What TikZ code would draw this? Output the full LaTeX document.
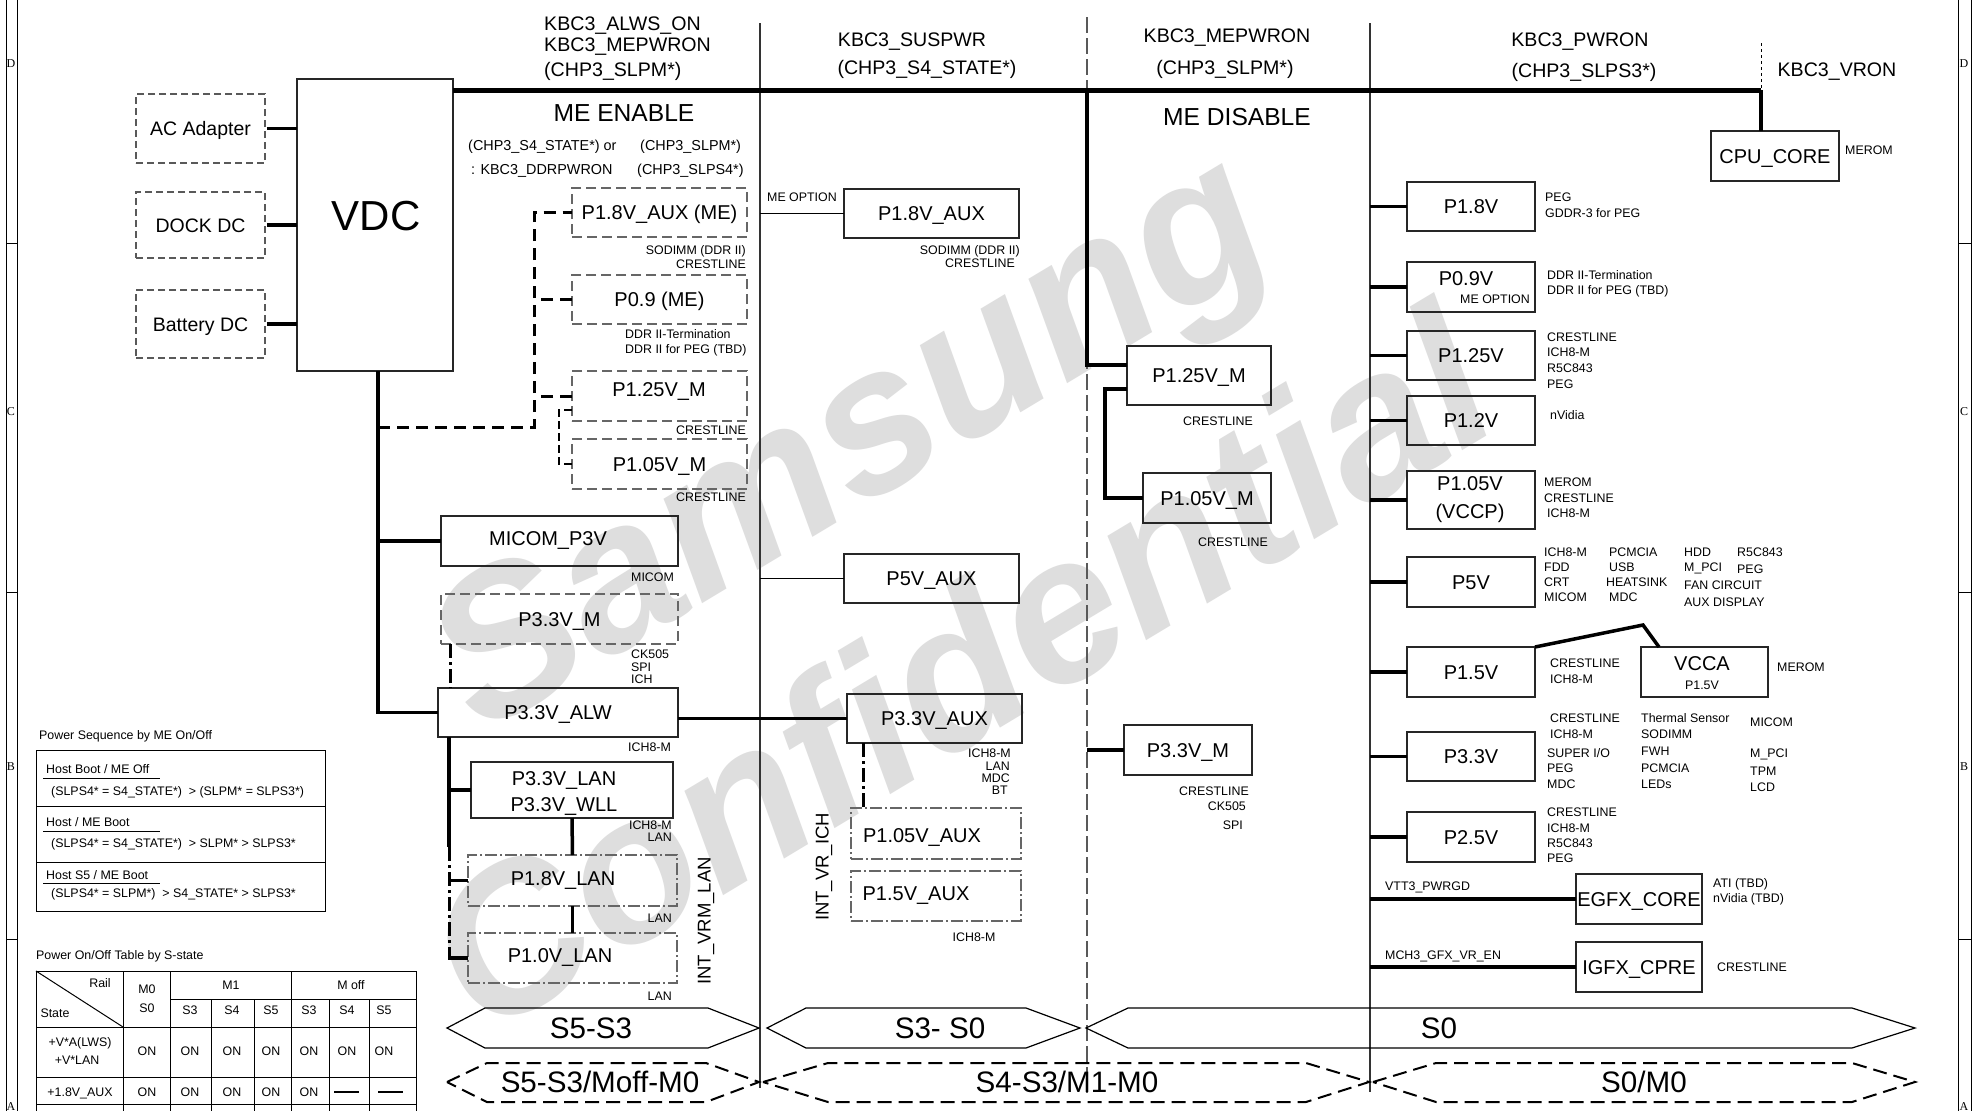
\documentclass[tikz,border=0pt]{standalone}
\usepackage{fontspec}
\setmainfont{Liberation Sans}
\newfontfamily\serf{Liberation Serif}
\begin{document}
\begin{tikzpicture}[x=1pt,y=-1pt,
 lbl/.style={inner sep=0pt, font=\fontsize{12.4}{14}\selectfont, text height=8.9pt, text depth=0pt},
 hd/.style={inner sep=0pt, font=\fontsize{19.6}{22}\selectfont, text height=14.1pt, text depth=0pt},
 hdm/.style={inner sep=0pt, font=\fontsize{14.4}{16}\selectfont, text height=10.3pt, text depth=0pt},
 ttl/.style={inner sep=0pt, font=\fontsize{24.6}{28}\selectfont, text height=17.7pt, text depth=0pt},
 bt/.style={inner sep=0pt, font=\fontsize{20}{24}\selectfont, text height=14.4pt, text depth=0pt},
 rt/.style={inner sep=0pt, font=\fontsize{18.5}{22}\selectfont, text height=13.3pt, text depth=0pt, rotate=90},
 st/.style={inner sep=0pt, font=\fontsize{29.6}{34}\selectfont, text height=21.3pt, text depth=0pt},
 fr/.style={inner sep=0pt, font=\serf\fontsize{12}{14}\selectfont, text height=8pt, text depth=0pt},
 wm/.style={inner sep=0pt, text=black!13, rotate=31, font=\fontsize{207}{210}\selectfont\bfseries\itshape},
 box/.style={draw=black!85, line width=1.3pt, inner sep=0pt, outer sep=0pt, font=\fontsize{20}{24}\selectfont, text height=14.4pt, text depth=0pt},
 dbox/.style={box, draw=black!60, line width=1.4pt, dash pattern=on 10pt off 5pt},
 sbox/.style={box, draw=black!65, line width=1.2pt, dash pattern=on 7pt off 4pt, font=\fontsize{19.5}{24}\selectfont},
 ddbox/.style={box, draw=black!60, line width=1.2pt, dash pattern=on 12pt off 3pt on 2pt off 3pt},
 thk/.style={line width=3.5pt},
 thkd/.style={line width=3pt, dash pattern=on 12pt off 7pt},
 thkdd/.style={line width=3pt, dash pattern=on 14pt off 4pt on 3pt off 4pt},
 thn/.style={line width=1.5pt},
 dv/.style={line width=1.2pt, draw=black!80},
 dvd/.style={line width=1.2pt, draw=black!65, dash pattern=on 16pt off 5pt},
 hex/.style={line width=1.2pt, line join=miter},
 dhex/.style={line width=2pt, dash pattern=on 14pt off 7pt},
 tl/.style={line width=1pt}
]
\fill[white] (0,0) rectangle (1973,1111);
\useasboundingbox (0,0) rectangle (1973,1111);

% watermark
\node[wm] (wm1) at (856,452) {Samsung};
\node[wm] (wm2) at (958,668) {Confidential};

% frame
\draw[line width=1pt] (6,0) -- (6,1111) (17,0) -- (17,1111);
\draw[line width=1pt] (6,243) -- (17,243) (6,592) -- (17,592) (6,939) -- (17,939);
\draw[line width=1pt] (1958,0) -- (1958,1111) (1971,0) -- (1971,1111);
\draw[line width=1pt] (1958,243) -- (1971,243) (1958,592) -- (1971,592) (1958,939) -- (1971,939);
\node[fr] (fLD) at (11,63) {D};
\node[fr] (fLC) at (11,411) {C};
\node[fr] (fLB) at (11,766) {B};
\node[fr] (fLA) at (11,1106) {A};
\node[fr] (fRD) at (1964,63) {D};
\node[fr] (fRC) at (1964,411) {C};
\node[fr] (fRB) at (1964,766) {B};
\node[fr] (fRA) at (1964,1106) {A};

% dividers
\coordinate (d1) at (760,23);
\coordinate (d1b) at (760,1088);
\coordinate (d2) at (1087,17);
\coordinate (d2b) at (1087,1093);
\coordinate (c4) at (1370,23);
\coordinate (c4b) at (1370,1092);
\draw[dv] (d1) -- (d1b);
\draw[dvd] (d2) -- (d2b);
\draw[dv] (c4) -- (c4b);

% headers
\node[hd, anchor=west] (h1a) at (544,23) {KBC3\_ALWS\_ON};
\node[hd, anchor=west] (h1b) at (544,44) {KBC3\_MEPWRON};
\node[hd, anchor=west] (h1c) at (544,69) {(CHP3\_SLPM*)};
\node[ttl] (meen) at (624,113) {ME ENABLE};
\node[hdm, anchor=west] (m1) at (468,145) {(CHP3\_S4\_STATE*) or};
\node[hdm, anchor=west] (m2) at (640,145) {(CHP3\_SLPM*)};
\node[hdm, anchor=west] (m3) at (471,169) {: KBC3\_DDRPWRON};
\node[hdm, anchor=west] (m4) at (637,169) {(CHP3\_SLPS4*)};
\node[hd] (h2a) at (912,39) {KBC3\_SUSPWR};
\node[hd] (h2b) at (927,67) {(CHP3\_S4\_STATE*)};
\node[hd] (h3a) at (1227,35) {KBC3\_MEPWRON};
\node[hd] (h3b) at (1225,67) {(CHP3\_SLPM*)};
\node[ttl] (medis) at (1237,117) {ME DISABLE};
\node[hd] (h4a) at (1580,39) {KBC3\_PWRON};
\node[hd] (h4b) at (1584,70) {(CHP3\_SLPS3*)};
\node[hd] (h5) at (1837,69) {KBC3\_VRON};

% sources and VDC
\node[sbox, minimum width=129pt, minimum height=69pt] (ac) at (200.5,128.5) {AC Adapter};
\node[sbox, minimum width=129pt, minimum height=66pt] (dock) at (200.5,225) {DOCK DC};
\node[sbox, minimum width=129pt, minimum height=68pt] (batt) at (200.5,324) {Battery DC};
\node[box, minimum width=156pt, minimum height=292pt] (vdc) at (375,225) {};
\node[inner sep=0pt, font=\fontsize{42}{46}\selectfont, text height=30.2pt, text depth=0pt] (vdct) at (376,215) {VDC};
\draw[thk] ([xshift=2pt]ac.east) -- (ac.east -| vdc.west);
\draw[thk] ([xshift=2pt]dock.east) -- (dock.east -| vdc.west);
\draw[thk] ([xshift=2pt]batt.east) -- (batt.east -| vdc.west);

% top bar
\coordinate (tb0) at (453,90);
\coordinate (vr) at (1761,90);
\coordinate (vrt) at (1761,43);
\draw[line width=5pt] (tb0) -- (vr);
\draw[dashed, line width=1pt] (vrt) -- (vr);

% column 1 ME group
\node[dbox, minimum width=175pt, minimum height=49pt] (me18) at (659.5,212.5) {P1.8V\_AUX (ME)};
\node[dbox, minimum width=175pt, minimum height=49pt] (me09) at (659.5,299.5) {P0.9 (ME)};
\node[dbox, minimum width=175pt, minimum height=50pt] (me125) at (659.5,396) {};
\node[bt] (me125t) at (659,389) {P1.25V\_M};
\node[dbox, minimum width=175pt, minimum height=50pt] (me105) at (659.5,464) {P1.05V\_M};
\node[lbl, anchor=east] (l1) at (746,250) {SODIMM (DDR II)};
\node[lbl, anchor=east] (l2) at (746,264) {CRESTLINE};
\node[lbl, anchor=west] (l3) at (625,334) {DDR II-Termination};
\node[lbl, anchor=west] (l4) at (625,349) {DDR II for PEG (TBD)};
\node[lbl, anchor=east] (l5) at (746,430) {CRESTLINE};
\node[lbl, anchor=east] (l6) at (746,497) {CRESTLINE};

\coordinate (tr) at (378,371);
\coordinate (mej) at (534,427);
\coordinate (mes) at (559,410);
\draw[thkd] (mej -| tr) -- (mej) |- (me18.west);
\draw[thkd] (me09.west) -- (me09.west -| mej);
\draw[thkd] (me125.west) -- (me125.west -| mej);
\draw[line width=1.2pt, dash pattern=on 8pt off 4pt] (mes -| me125.west) -- (mes) |- (me105.west);

% trunk
\node[box, minimum width=237pt, minimum height=50pt] (micom) at (559.5,541) {};
\node[bt] (micomt) at (548,538) {MICOM\_P3V};
\node[dbox, minimum width=237pt, minimum height=50pt] (pm33) at (559.5,619) {P3.3V\_M};
\node[box, minimum width=240pt, minimum height=49pt] (alw) at (558,712.5) {P3.3V\_ALW};
\draw[thk] (tr) |- (alw.west);
\draw[thk] (micom.west) -- (micom.west -| tr);
\node[lbl, anchor=west] (l7) at (631,577) {MICOM};
\node[lbl, anchor=west] (l8) at (631,654) {CK505};
\node[lbl, anchor=west] (l9) at (631,667) {SPI};
\node[lbl, anchor=west] (l10) at (631,679) {ICH};
\node[lbl, anchor=west] (l11) at (628,747) {ICH8-M};
\coordinate (t3) at (450,644);
\draw[thkdd] (t3) -- (t3 |- alw.north);

% LAN group
\node[box, minimum width=202pt, minimum height=56pt] (lan33) at (572,790) {};
\node[bt] (lan33a) at (564,778) {P3.3V\_LAN};
\node[bt] (lan33b) at (564,804) {P3.3V\_WLL};
\node[ddbox, minimum width=209pt, minimum height=51pt] (lan18) at (572.5,880.5) {};
\node[bt] (lan18t) at (563,878) {P1.8V\_LAN};
\node[ddbox, minimum width=209pt, minimum height=50pt] (lan10) at (572.5,958) {};
\node[bt] (lan10t) at (560,955) {P1.0V\_LAN};
\coordinate (t2) at (449,737);
\coordinate (t2a) at (449,847);
\draw[thk] (t2) -- (t2a);
\draw[thkdd] (t2a) -- (t2a |- lan10.west);
\draw[thk] (lan33.west) -- (lan33.west -| t2);
\draw[thk] (lan18.west) -- (lan18.west -| t2);
\draw[thk] (lan10.west) -- ([xshift=-1.5pt]lan10.west -| t2);
\draw[thk] (lan33.south) -- (lan18.north);
\draw[thk] (lan18.south) -- (lan10.north);
\node[lbl, anchor=east] (l12) at (672,825) {ICH8-M};
\node[lbl, anchor=east] (l13) at (672,837) {LAN};
\node[lbl, anchor=east] (l14) at (672,918) {LAN};
\node[lbl, anchor=east] (l15) at (672,996) {LAN};
\node[rt] (intvrm) at (704,921) {INT\_VRM\_LAN};

% column 2
\node[box, minimum width=175pt, minimum height=49pt] (aux18) at (931.5,213.5) {P1.8V\_AUX};
\node[box, minimum width=175pt, minimum height=49pt] (aux5) at (931.5,578.5) {P5V\_AUX};
\node[box, minimum width=175pt, minimum height=49pt] (aux33) at (934.5,718.5) {P3.3V\_AUX};
\node[ddbox, minimum width=170pt, minimum height=51pt] (aux105) at (936,833.5) {};
\node[bt] (aux105t) at (922,835) {P1.05V\_AUX};
\node[ddbox, minimum width=170pt, minimum height=50pt] (aux15) at (936,896) {};
\node[bt] (aux15t) at (916,893) {P1.5V\_AUX};
\draw[thn] (aux18.west) -- (aux18.west -| d1);
\draw[thn] (aux5.west) -- (aux5.west -| d1);
\draw[thk] (aux33.west) -- (aux33.west -| alw.east);
\coordinate (t4) at (863,743);
\draw[thkdd] (t4) -- (t4 |- aux105.north);
\node[lbl, anchor=west] (l16) at (767,197) {ME OPTION};
\node[lbl, anchor=east] (l17) at (1020,250) {SODIMM (DDR II)};
\node[lbl, anchor=east] (l18) at (1015,263) {CRESTLINE};
\node[lbl, anchor=east] (l19) at (1011,753) {ICH8-M};
\node[lbl, anchor=east] (l20) at (1010,766) {LAN};
\node[lbl, anchor=east] (l21) at (1010,778) {MDC};
\node[lbl, anchor=east] (l22) at (1008,790) {BT};
\node[lbl] (l23) at (974,937) {ICH8-M};
\node[rt] (intvr) at (822,867) {INT\_VR\_ICH};

% column 3
\node[box, minimum width=144pt, minimum height=59pt] (p125m) at (1199,375.5) {P1.25V\_M};
\node[box, minimum width=128pt, minimum height=50pt] (p105m) at (1207,498) {P1.05V\_M};
\node[box, minimum width=128pt, minimum height=50pt] (p33mr) at (1188,750) {P3.3V\_M};
\coordinate (c3top) at (1087,90);
\coordinate (c3j) at (1087,365);
\coordinate (c3k) at (1105,389);
\draw[thk] (c3top) -- (c3j) -- (c3j -| p125m.west);
\draw[thk] (c3k -| p125m.west) -- (c3k) |- (p105m.west);
\draw[thk] (p33mr.west) -- (p33mr.west -| c3top);
\node[lbl] (l24) at (1218,421) {CRESTLINE};
\node[lbl] (l25) at (1233,542) {CRESTLINE};
\node[lbl, anchor=east] (l26) at (1249,791) {CRESTLINE};
\node[lbl, anchor=east] (l27) at (1246,806) {CK505};
\node[lbl, anchor=east] (l28) at (1243,825) {SPI};

% column 4
\node[box, minimum width=128pt, minimum height=50pt] (cpu) at (1775,156) {CPU\_CORE};
\draw[thk] (vr) -- (vr |- cpu.north);
\node[lbl, anchor=west] (l29) at (1845,150) {MEROM};
\node[box, minimum width=128pt, minimum height=49pt] (r18) at (1471,206.5) {P1.8V};
\node[box, minimum width=128pt, minimum height=50pt] (r09) at (1471,287) {};
\node[bt] (r09t) at (1466,278) {P0.9V};
\node[lbl, anchor=east] (r09o) at (1530,299) {ME OPTION};
\node[box, minimum width=128pt, minimum height=49pt] (r125) at (1471,355.5) {P1.25V};
\node[box, minimum width=128pt, minimum height=49pt] (r12) at (1471,420.5) {P1.2V};
\node[box, minimum width=128pt, minimum height=58pt] (r105) at (1471,500) {};
\node[bt] (r105a) at (1470,483) {P1.05V};
\node[bt] (r105b) at (1470,511) {(VCCP)};
\node[box, minimum width=128pt, minimum height=50pt] (r5) at (1471,582) {P5V};
\node[box, minimum width=128pt, minimum height=50pt] (r15) at (1471,672) {P1.5V};
\node[box, minimum width=127pt, minimum height=50pt] (vcca) at (1704.5,672) {};
\node[bt] (vccat) at (1702,663) {VCCA};
\node[lbl] (vccas) at (1702,685) {P1.5V};
\node[box, minimum width=128pt, minimum height=49pt] (r33) at (1471,756.5) {P3.3V};
\node[box, minimum width=128pt, minimum height=50pt] (r25) at (1471,837) {P2.5V};
\node[box, minimum width=126pt, minimum height=50pt] (egfx) at (1639,899) {EGFX\_CORE};
\node[box, minimum width=126pt, minimum height=50pt] (igfx) at (1639,967) {IGFX\_CPRE};
\foreach \n in {r18,r09,r125,r12,r105,r5,r15,r33,r25,egfx,igfx}
  \draw[thk] (\n.west) -- (\n.west -| c4);
\coordinate (vk) at (1643,625);
\coordinate (vk2) at (1659,647);
\draw[thk] (r15.north east) -- (vk) -- (vk2);

\node[lbl, anchor=west] (a1) at (1545,197) {PEG};
\node[lbl, anchor=west] (a2) at (1545,213) {GDDR-3 for PEG};
\node[lbl, anchor=west] (a3) at (1547,275) {DDR II-Termination};
\node[lbl, anchor=west] (a4) at (1547,290) {DDR II for PEG (TBD)};
\node[lbl, anchor=west] (a5) at (1547,337) {CRESTLINE};
\node[lbl, anchor=west] (a6) at (1547,352) {ICH8-M};
\node[lbl, anchor=west] (a7) at (1547,368) {R5C843};
\node[lbl, anchor=west] (a8) at (1547,384) {PEG};
\node[lbl, anchor=west] (a9) at (1550,415) {nVidia};
\node[lbl, anchor=west] (a10) at (1544,482) {MEROM};
\node[lbl, anchor=west] (a11) at (1544,498) {CRESTLINE};
\node[lbl, anchor=west] (a12) at (1547,513) {ICH8-M};
\foreach \t/\x/\y [count=\i] in {ICH8-M/1544/552, FDD/1544/567, CRT/1544/582, MICOM/1544/597,
 PCMCIA/1609/552, USB/1609/567, HEATSINK/1606/582, MDC/1609/597,
 HDD/1684/552, M\_PCI/1684/567, FAN CIRCUIT/1684/585, AUX DISPLAY/1684/602,
 R5C843/1737/552, PEG/1737/569}
  \node[lbl, anchor=west] (pf\i) at (\x,\y) {\t};
\node[lbl, anchor=west] (a13) at (1550,663) {CRESTLINE};
\node[lbl, anchor=west] (a14) at (1550,679) {ICH8-M};
\node[lbl, anchor=west] (a15) at (1777,667) {MEROM};
\foreach \t/\x/\y [count=\i] in {CRESTLINE/1550/718, ICH8-M/1550/734, PEG/1547/768, MDC/1547/784,
 Thermal Sensor/1641/718, SODIMM/1641/734, FWH/1641/751, PCMCIA/1641/768, LEDs/1641/784,
 MICOM/1750/722, M\_PCI/1750/753, TPM/1750/771, LCD/1750/787}
  \node[lbl, anchor=west] (pt\i) at (\x,\y) {\t};
\node[lbl, anchor=west] (a16) at (1547,753) {SUPER I/O};
\node[lbl, anchor=west] (a17) at (1547,812) {CRESTLINE};
\node[lbl, anchor=west] (a18) at (1547,828) {ICH8-M};
\node[lbl, anchor=west] (a19) at (1547,843) {R5C843};
\node[lbl, anchor=west] (a20) at (1547,858) {PEG};
\node[lbl, anchor=west] (a21) at (1385,886) {VTT3\_PWRGD};
\node[lbl, anchor=west] (a22) at (1713,883) {ATI (TBD)};
\node[lbl, anchor=west] (a23) at (1713,898) {nVidia (TBD)};
\node[lbl, anchor=west] (a24) at (1385,955) {MCH3\_GFX\_VR\_EN};
\node[lbl, anchor=west] (a25) at (1717,967) {CRESTLINE};

% state hexagons
\draw[hex] (447,1028) -- (485,1008) -- (708,1008) -- (759,1028) -- (708,1048) -- (485,1048) -- cycle;
\draw[hex] (767,1028) -- (806,1008) -- (1026,1008) -- (1080,1028) -- (1026,1048) -- (806,1048) -- cycle;
\draw[hex] (1086,1028) -- (1128,1008) -- (1852,1008) -- (1915,1028) -- (1852,1048) -- (1128,1048) -- cycle;
\draw[dhex] (447,1082) -- (487,1063) -- (706,1063) -- (759,1082) -- (706,1102) -- (487,1102) -- cycle;
\draw[dhex] (763,1082) -- (828,1063) -- (1306,1063) -- (1369,1082) -- (1306,1102) -- (828,1102) -- cycle;
\draw[dhex] (1373,1082) -- (1436,1063) -- (1852,1063) -- (1915,1082) -- (1852,1102) -- (1436,1102) -- cycle;
\node[st] (s1) at (591,1028) {S5-S3};
\node[st] (s2) at (940,1028) {S3- S0};
\node[st] (s3) at (1439,1028) {S0};
\node[st] (s4) at (600,1082) {S5-S3/Moff-M0};
\node[st] (s5) at (1067,1082) {S4-S3/M1-M0};
\node[st] (s6) at (1644,1082) {S0/M0};

% power sequence table
\node[lbl, anchor=west] (pseq) at (39,735) {Power Sequence by ME On/Off};
\draw[tl] (36,750) rectangle (325,911);
\draw[tl] (36,806) -- (325,806) (36,862) -- (325,862);
\node[lbl, anchor=west] (q1) at (46,769) {Host Boot / ME Off};
\draw[tl] (43,778) -- (160,778);
\node[lbl, anchor=west] (q2) at (51,791) {(SLPS4* = S4\_STATE*)\ \ > (SLPM* = SLPS3*)};
\node[lbl, anchor=west] (q3) at (46,822) {Host / ME Boot};
\draw[tl] (43,831) -- (160,831);
\node[lbl, anchor=west] (q4) at (51,843) {(SLPS4* = S4\_STATE*)\ \ > SLPM* > SLPS3*};
\node[lbl, anchor=west] (q5) at (46,875) {Host S5 / ME Boot};
\draw[tl] (43,883) -- (160,883);
\node[lbl, anchor=west] (q6) at (51,893) {(SLPS4* = SLPM*)\ \ > S4\_STATE* > SLPS3*};

% S-state table
\node[lbl, anchor=west] (ptab) at (36,955) {Power On/Off Table by S-state};
\draw[tl] (36,971) -- (416,971);
\draw[tl] (170,999) -- (416,999);
\draw[tl] (36,1027) -- (416,1027);
\draw[tl] (36,1077) -- (416,1077);
\draw[tl] (36,1104) -- (416,1104);
\foreach \x in {36,123,170,291,416} \draw[tl] (\x,971) -- (\x,1111);
\foreach \x in {211,254,329,369} \draw[tl] (\x,999) -- (\x,1111);
\draw[tl] (36,971) -- (123,1027);
\node[lbl] (tr1) at (100,983) {Rail};
\node[lbl] (tr2) at (55,1013) {State};
\node[lbl] (tm0) at (147,989) {M0};
\node[lbl] (ts0) at (147,1008) {S0};
\node[lbl] (tm1) at (231,985) {M1};
\node[lbl] (tmo) at (351,985) {M off};
\foreach \t/\x [count=\i] in {S3/190,S4/232,S5/271,S3/309,S4/347,S5/384}
  \node[lbl] (tsh\i) at (\x,1010) {\t};
\node[lbl] (trw1a) at (80,1042) {+V*A(LWS)};
\node[lbl] (trw1b) at (77,1060) {+V*LAN};
\foreach \x [count=\i] in {147,190,232,271,309,347,384}
  \node[lbl] (on\i) at (\x,1051) {ON};
\node[lbl] (trw2) at (80,1092) {+1.8V\_AUX};
\foreach \x [count=\i] in {147,190,232,271,309}
  \node[lbl] (onb\i) at (\x,1092) {ON};
\draw[line width=2pt] (334,1092) -- (359,1092);
\draw[line width=2pt] (378,1092) -- (403,1092);
\end{tikzpicture}
\end{document}
